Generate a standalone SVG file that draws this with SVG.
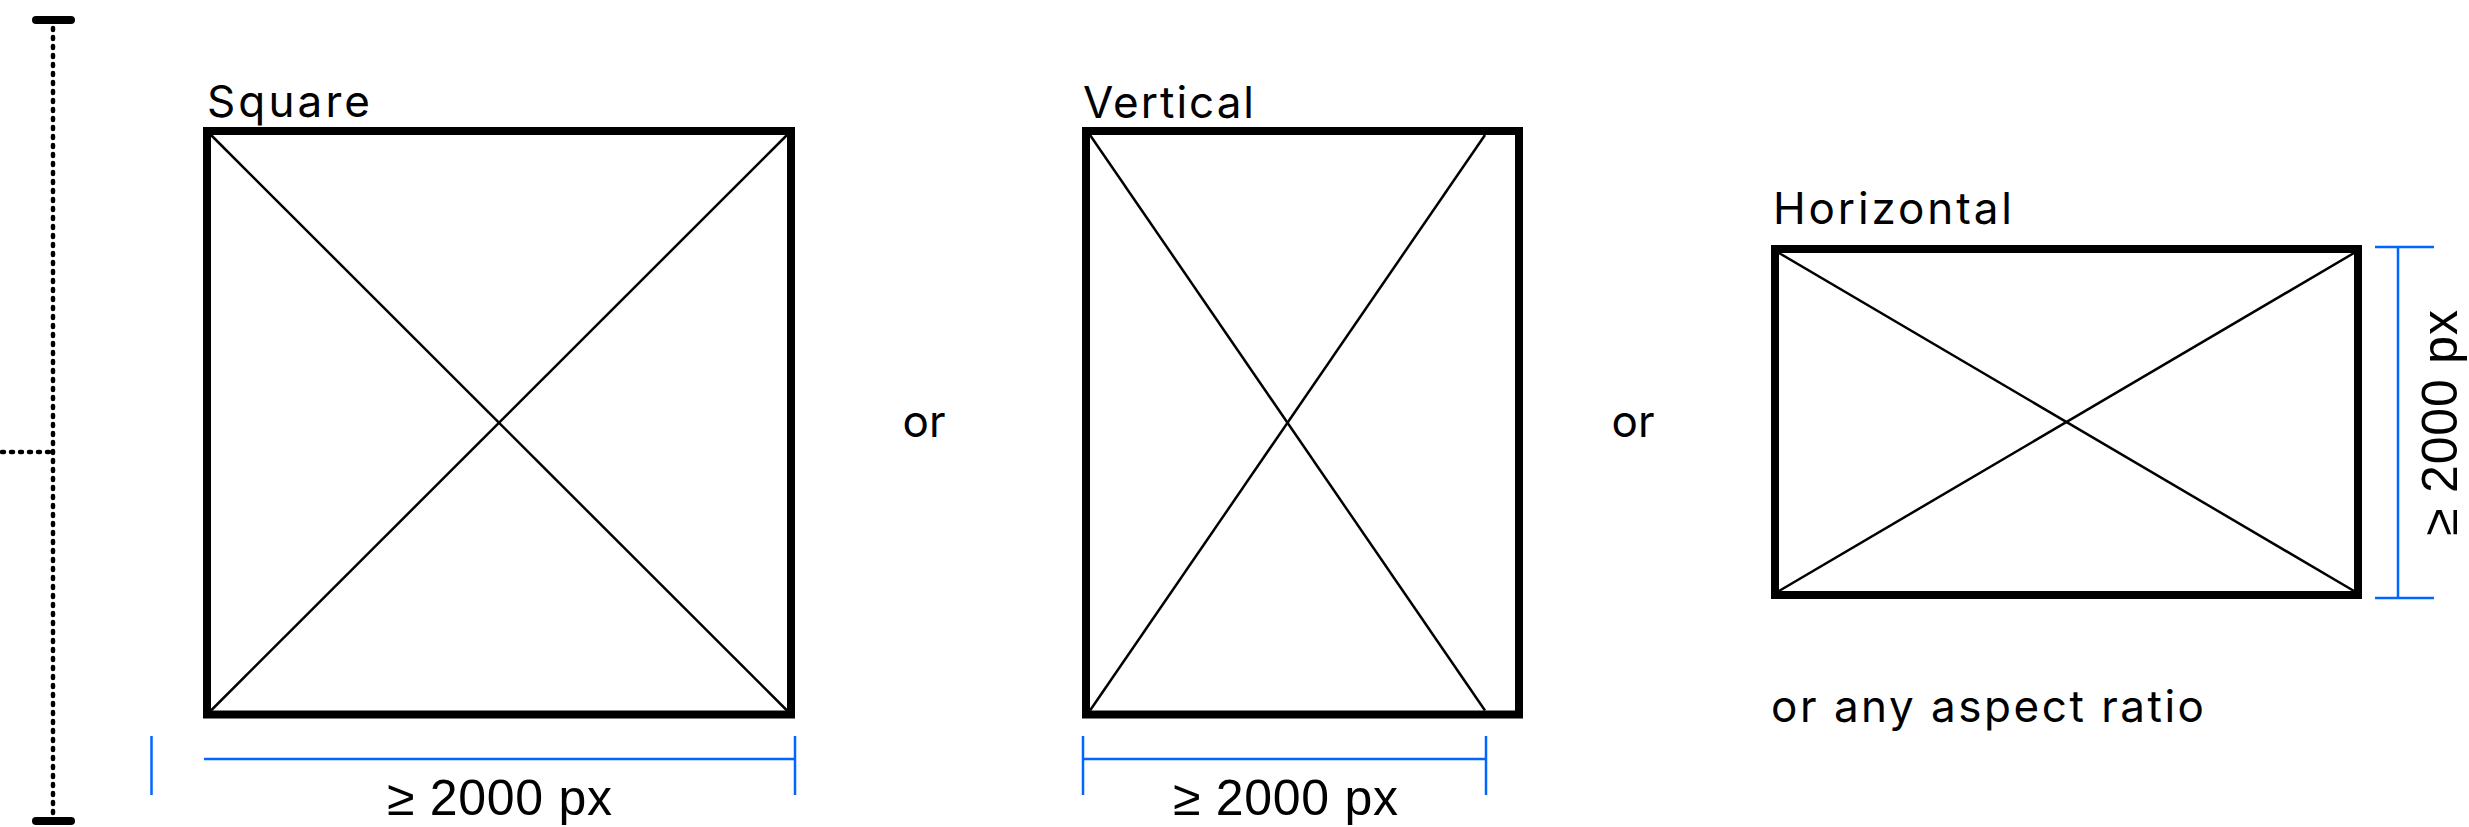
<svg xmlns="http://www.w3.org/2000/svg" width="2469" height="827" viewBox="0 0 2469 827">
<style>
.bg{fill:#ffffff}
.frame{fill:none;stroke:#000;stroke-width:8}
.diag{stroke:#000;stroke-width:2.5;fill:none}
.title{font-family:Inter,"Noto Sans",sans-serif;font-size:44px;fill:#000}
.dim{stroke:#0066ff;stroke-width:2.5;fill:none}
.dimtxt{font-family:"Liberation Sans",Arial,sans-serif;font-size:50px;fill:#000}
.dots{stroke:#000;stroke-width:4.5;stroke-dasharray:2 7;stroke-linecap:round;fill:none}
.cap{stroke:#000;stroke-width:8;stroke-linecap:round}
</style>
<rect class="bg" x="0" y="0" width="2469" height="827"/>
<g id="scale-bar">
<line class="dots" x1="53" y1="28" x2="53" y2="814"/>
<line class="dots" x1="2" y1="452" x2="50" y2="452"/>
<line class="cap" x1="36" y1="20" x2="71" y2="20"/>
<line class="cap" x1="36" y1="821" x2="71" y2="821"/>
</g>
<g id="square">
<text class="title" x="207" y="117" textLength="163">Square</text>
<rect class="frame" x="207" y="131" width="584" height="583.5"/>
<line class="diag" x1="211" y1="135" x2="787" y2="710.5"/>
<line class="diag" x1="787" y1="135" x2="211" y2="710.5"/>
</g>
<g id="vertical">
<text class="title" x="1083" y="118" textLength="171">Vertical</text>
<rect class="frame" x="1086" y="131" width="433" height="583.5"/>
<line class="diag" x1="1090" y1="135" x2="1485" y2="710.5"/>
<line class="diag" x1="1485" y1="135" x2="1090" y2="710.5"/>
</g>
<g id="horizontal">
<text class="title" x="1773" y="224" textLength="239">Horizontal</text>
<rect class="frame" x="1775" y="249" width="583" height="346"/>
<line class="diag" x1="1779" y1="253" x2="2354" y2="591"/>
<line class="diag" x1="2354" y1="253" x2="1779" y2="591"/>
<text class="title" x="1771" y="722" textLength="433">or any aspect ratio</text>
</g>
<g id="or-labels">
<text class="title" x="924" y="437" text-anchor="middle">or</text>
<text class="title" x="1633" y="437" text-anchor="middle">or</text>
</g>
<g id="connectors">
<line class="dim" x1="151.5" y1="736" x2="151.5" y2="795"/>
<line class="dim" x1="204" y1="759" x2="795" y2="759"/>
<line class="dim" x1="795" y1="736" x2="795" y2="795"/>
<line class="dim" x1="1083" y1="759" x2="1486" y2="759"/>
<line class="dim" x1="1083" y1="736" x2="1083" y2="795"/>
<line class="dim" x1="1486" y1="736" x2="1486" y2="795"/>
<line class="dim" x1="2398" y1="247" x2="2398" y2="598"/>
<line class="dim" x1="2375" y1="247" x2="2434" y2="247"/>
<line class="dim" x1="2375" y1="598" x2="2434" y2="598"/>
</g>
<g id="dimension-labels">
<text class="dimtxt" x="499.5" y="815" text-anchor="middle" textLength="225">≥ 2000 px</text>
<text class="dimtxt" x="1285.5" y="815" text-anchor="middle" textLength="225">≥ 2000 px</text>
<text class="dimtxt" transform="translate(2457 423) rotate(-90)" text-anchor="middle" textLength="226">≥ 2000 px</text>
</g>
</svg>
